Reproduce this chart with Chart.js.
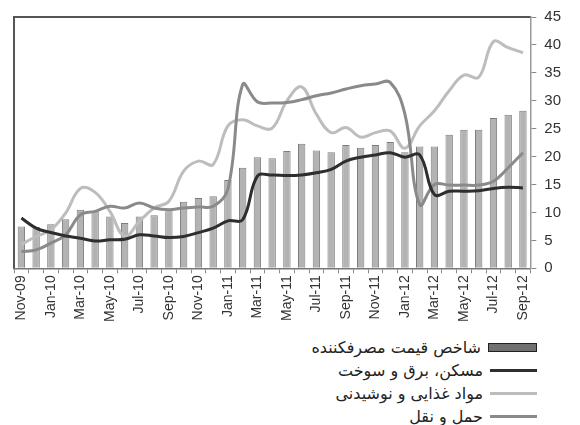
<!DOCTYPE html>
<html>
<head>
<meta charset="utf-8">
<script src="https://cdn.jsdelivr.net/npm/chart.js@4.4.0/dist/chart.umd.min.js"></script>
<style>
  body { margin: 0; background: #fff; width: 580px; height: 425px; position: relative; overflow: hidden; }
  #chart { position: absolute; left: 0; top: 0; }
  #legend { position: absolute; top: 336px; right: 43px; direction: rtl;
            font-family: "DejaVu Sans", sans-serif; font-size: 16px; color: #222; }
  .row { display: flex; align-items: center; height: 23px; }
  .sw { width: 47px; margin-left: 7px; flex: none; }
</style>
</head>
<body>
<canvas id="chart" width="580" height="328"></canvas>
<div id="legend"></div>
<script>
var months = ["Nov-09","Dec-09","Jan-10","Feb-10","Mar-10","Apr-10","May-10","Jun-10","Jul-10","Aug-10",
  "Sep-10","Oct-10","Nov-10","Dec-10","Jan-11","Feb-11","Mar-11","Apr-11","May-11","Jun-11",
  "Jul-11","Aug-11","Sep-11","Oct-11","Nov-11","Dec-11","Jan-12","Feb-12","Mar-12","Apr-12",
  "May-12","Jun-12","Jul-12","Aug-12","Sep-12"];

// شاخص قیمت مصرفکننده
var cpi = [7.5, 7.4, 7.9, 8.8, 10.5, 10.2, 9.3, 8.1, 9.3, 9.5,
  10.2, 11.9, 12.6, 12.9, 15.8, 18.0, 19.9, 19.7, 21.0, 22.3,
  21.1, 20.8, 22.1, 21.6, 22.1, 22.6, 20.8, 21.8, 21.8, 23.9,
  24.8, 24.8, 26.9, 27.5, 28.2];

// مسکن، برق و سوخت
var housing = [9.0, 7.2, 6.4, 5.8, 5.4, 4.9, 5.1, 5.2, 6.0, 5.8,
  5.5, 5.7, 6.4, 7.2, 8.5, 8.7, 16.5, 16.7, 16.6, 16.7,
  17.1, 17.7, 19.2, 19.9, 20.3, 20.7, 19.9, 20.3, 13.2, 13.8,
  13.8, 13.9, 14.3, 14.5, 14.4];

// مواد غذایی و نوشیدنی
var food = [4.3, 5.7, 6.9, 9.9, 14.3, 13.6, 10.2, 5.7, 8.4, 10.8,
  12.0, 17.4, 19.2, 18.6, 25.5, 26.6, 25.5, 25.1, 30.0, 32.5,
  27.6, 24.3, 25.2, 23.5, 24.3, 24.6, 21.5, 25.5, 28.2, 31.8,
  34.6, 34.2, 40.6, 39.5, 38.6];

// حمل و نقل
var transport = [3.0, 3.3, 4.5, 6.0, 9.6, 10.2, 11.1, 10.8, 11.7, 10.8,
  10.5, 10.8, 11.0, 11.1, 14.2, 32.9, 29.8, 29.6, 29.7, 30.2,
  30.9, 31.4, 32.1, 32.7, 33.0, 33.3, 27.6, 11.4, 15.0, 14.9,
  14.9, 14.9, 15.6, 18.0, 20.7];

var yTicks = [0, 5, 10, 15, 20, 25, 30, 35, 40, 45];
var names = ["شاخص قیمت مصرفکننده", "مسکن، برق و سوخت", "مواد غذایی و نوشیدنی", "حمل و نقل"];

// frame on top and left like the original
var frame = {
  id: 'frame',
  afterDraw: function (chart) {
    var a = chart.chartArea, c = chart.ctx;
    c.save();
    c.strokeStyle = '#555';
    c.lineWidth = 2;
    c.beginPath();
    c.moveTo(a.left, a.bottom);
    c.lineTo(a.left, a.top);
    c.lineTo(a.right, a.top);
    c.stroke();
    c.restore();
  }
};

var ctx = document.getElementById('chart');
var myChart = new Chart(ctx, {
  data: {
    labels: months,
    datasets: [
      { type: 'bar', label: names[0], data: cpi, order: 10,
        backgroundColor: '#b3b3b3', borderColor: '#7c7c7c', borderWidth: 1,
        barPercentage: 0.5, categoryPercentage: 1 },
      { type: 'line', label: names[1], data: housing, order: 1,
        borderColor: '#2e2e2e', borderWidth: 3, pointRadius: 0, tension: 0.4 },
      { type: 'line', label: names[2], data: food, order: 3,
        borderColor: '#bdbdbd', borderWidth: 3, pointRadius: 0, tension: 0.4 },
      { type: 'line', label: names[3], data: transport, order: 2,
        borderColor: '#8a8a8a', borderWidth: 3, pointRadius: 0, tension: 0.4 }
    ]
  },
  options: {
    responsive: false,
    animation: false,
    layout: { padding: { left: 14, top: 16, right: 11, bottom: 4 } },
    plugins: { legend: { display: false }, tooltip: { enabled: false } },
    scales: {
      x: {
        offset: true,
        grid: { offset: true, drawOnChartArea: false, tickLength: 5, color: '#888' },
        border: { color: '#777', width: 1.5 },
        ticks: {
          autoSkip: false, minRotation: 90, maxRotation: 90, padding: 2,
          color: '#333', font: { family: 'Liberation Sans', size: 14 },
          callback: function (v, i) { return i % 2 === 0 ? months[i] : ''; }
        }
      },
      y: {
        position: 'right', min: 0, max: 45,
        afterBuildTicks: function (axis) { axis.ticks = yTicks.map(function (v) { return { value: v }; }); },
        grid: { drawOnChartArea: false, tickLength: 6, color: '#888' },
        border: { color: '#999', width: 1.5 },
        ticks: { color: '#333', padding: 8, font: { family: 'Liberation Sans', size: 15 } }
      }
    }
  },
  plugins: [frame]
});

// legend, one item per row, marker on the right
var legend = document.getElementById('legend');
myChart.data.datasets.forEach(function (ds, i) {
  var row = document.createElement('div');
  row.className = 'row';
  var sw = document.createElement('div');
  sw.className = 'sw';
  if (ds.type === 'bar') {
    sw.style.height = '7px';
    sw.style.background = '#707070';
    sw.style.border = '1.5px solid #222';
  } else {
    sw.style.height = i === 1 ? '3px' : '2.5px';
    sw.style.background = ds.borderColor;
  }
  var txt = document.createElement('span');
  txt.textContent = ds.label;
  row.appendChild(sw);
  row.appendChild(txt);
  legend.appendChild(row);
});
</script>
</body>
</html>
